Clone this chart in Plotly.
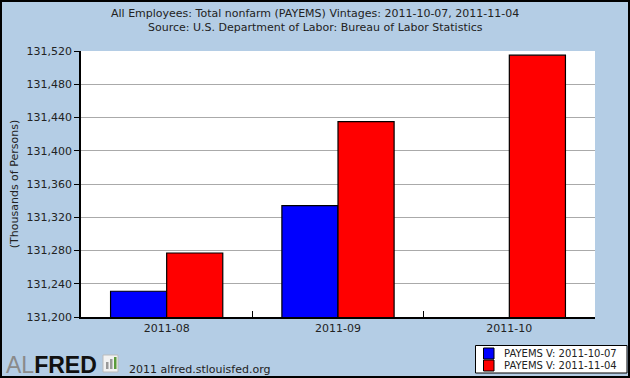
import plotly.graph_objects as go

categories = ["2011-08", "2011-09", "2011-10"]
vintage_1007 = [131231, 131334, None]
vintage_1104 = [131277, 131435, 131515]
series_names = ["PAYEMS V: 2011-10-07", "PAYEMS V: 2011-11-04"]
series_colors = ["#0000FF", "#FF0000"]
y_ticks = [131200, 131240, 131280, 131320, 131360, 131400, 131440, 131480, 131520]
title_lines = ["All Employees: Total nonfarm (PAYEMS) Vintages: 2011-10-07, 2011-11-04",
               "Source: U.S. Department of Labor: Bureau of Labor Statistics"]

BG = "#B4CDE5"
FONT = "DejaVu Sans"
W, H = 630, 378
L, R, T, B = 81, 35, 51, 61
PW, PH = W - L - R, H - T - B

def px(v):
    return (v - L) / PW

def py(v):
    return (H - B - v) / PH

fig = go.Figure()
for vals, name, col in zip([vintage_1007, vintage_1104], series_names, series_colors):
    fig.add_trace(go.Bar(x=categories, y=vals, name=name,
                         marker=dict(color=col, line=dict(color="black", width=1.2))))

fig.update_layout(
    width=W, height=H,
    margin=dict(l=L, r=R, t=T, b=B, autoexpand=False),
    paper_bgcolor=BG, plot_bgcolor="white",
    font=dict(family=FONT, size=11, color="#222"),
    barmode="group", bargap=0.345, bargroupgap=0,
    showlegend=False,
)
fig.update_xaxes(type="category", showline=True, linecolor="black", linewidth=1.5,
                 ticks="inside", tickson="boundaries", ticklen=6, tickcolor="black",
                 showgrid=False, automargin=False,
                 tickfont=dict(family=FONT, size=11, color="#222"))
fig.update_yaxes(range=[131200, 131520], tickvals=y_ticks, tickformat=",d",
                 showline=True, linecolor="black", linewidth=1.5,
                 ticks="outside", ticklen=5, tickcolor="black", automargin=False,
                 showgrid=True, gridcolor="#AAAAAA", gridwidth=1, zeroline=False,
                 tickfont=dict(family=FONT, size=11, color="#222"),
                 title=dict(text="(Thousands of Persons)", standoff=6,
                            font=dict(family=FONT, size=11, color="#222")))

# title lines
for i, line in enumerate(title_lines):
    fig.add_annotation(xref="paper", yref="paper", x=px(315), y=py(14 + 14 * i),
                       xanchor="center", yanchor="middle", text=line, showarrow=False,
                       font=dict(family=FONT, size=11, color="#222"))

# outer border
fig.add_shape(type="rect", xref="paper", yref="paper", x0=px(1), x1=px(629),
              y0=py(377), y1=py(1), line=dict(color="black", width=2), layer="above")

# legend box (drawn)
fig.add_shape(type="rect", xref="paper", yref="paper", x0=px(475.5), x1=px(627), y0=py(373), y1=py(345.5),
              line=dict(color="black", width=1), fillcolor="white")
for i, (name, col) in enumerate(zip(series_names, series_colors)):
    y0 = 348 + 12 * i
    fig.add_shape(type="rect", xref="paper", yref="paper", x0=px(483.5), x1=px(494), y0=py(y0 + 11), y1=py(y0),
                  line=dict(color="black", width=1), fillcolor=col)
    fig.add_annotation(xref="paper", yref="paper", x=px(502), y=py(y0 + 5.5), xanchor="left", yanchor="middle",
                       text=name, showarrow=False, font=dict(family=FONT, size=10, color="#222"))

# ALFRED logo
fig.add_annotation(xref="paper", yref="paper", x=px(4), y=py(364.5), xanchor="left", yanchor="middle",
                   text="<span style='color:#8a8a8a'>AL</span><b style='color:#111'>FRED</b>",
                   showarrow=False, font=dict(family="Liberation Sans", size=23))
fig.add_shape(type="rect", xref="paper", yref="paper", x0=px(103), x1=px(118), y0=py(372), y1=py(355),
              line=dict(color="#bbbbbb", width=1), fillcolor="#f2f2f2")
fig.add_shape(type="rect", xref="paper", yref="paper", x0=px(106), x1=px(108.5), y0=py(369), y1=py(362),
              line=dict(width=0), fillcolor="#999999")
fig.add_shape(type="rect", xref="paper", yref="paper", x0=px(110), x1=px(112.5), y0=py(369), y1=py(359),
              line=dict(width=0), fillcolor="#999999")
fig.add_shape(type="rect", xref="paper", yref="paper", x0=px(114), x1=px(116.5), y0=py(369), y1=py(357),
              line=dict(width=0), fillcolor="#5a9a3a")
fig.add_annotation(xref="paper", yref="paper", x=px(127), y=py(369), xanchor="left", yanchor="middle",
                   text="2011 alfred.stlouisfed.org", showarrow=False,
                   font=dict(family=FONT, size=11, color="#222"))

fig.write_html("out.html")
